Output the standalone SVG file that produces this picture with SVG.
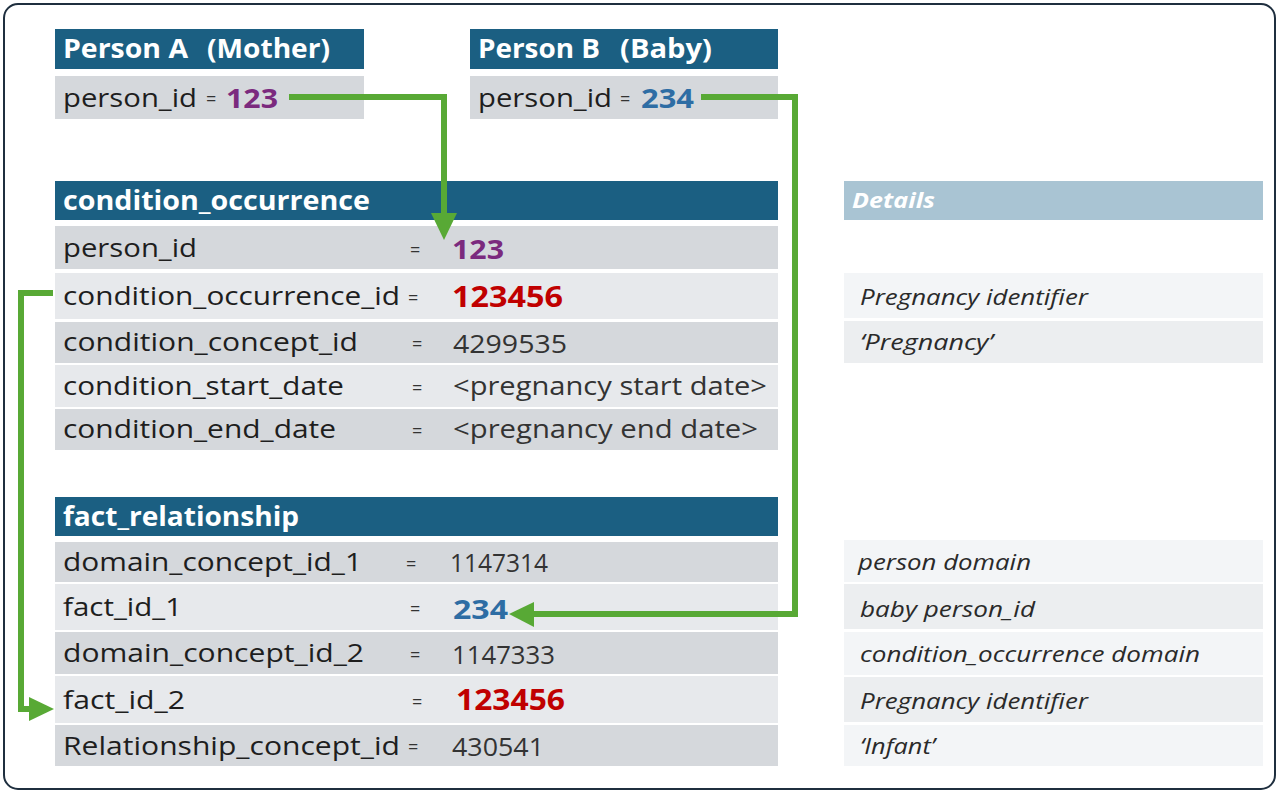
<svg xmlns="http://www.w3.org/2000/svg" width="1280" height="795" viewBox="0 0 1280 795">
<style>
.hd{fill:#1b5f82}
.dk{fill:#d5d8dc}
.lt{fill:#e7e9ec}
.dh{fill:#a9c4d3}
.dl{fill:#f3f5f7}
.dd{fill:#eceef0}
text{font-family:"Open Sans","Noto Sans","Liberation Sans",sans-serif}
.ht{font-size:26px;font-weight:bold;fill:#ffffff}
.lb{font-size:26px;fill:#1e1e1e}
.eq{font-size:18px;fill:#333333}
.nv{font-size:25px;fill:#333333}
.pu{font-size:27px;font-weight:bold;fill:#7b2a7e}
.bl{font-size:27px;font-weight:bold;fill:#2e6da4}
.rd{font-size:28px;font-weight:bold;fill:#c00000}
.dt{font-size:22px;font-style:italic;fill:#2a2a2a}
.dht{font-size:22px;font-style:italic;font-weight:bold;fill:#ffffff}
.ln{fill:none;stroke:#58a935;stroke-width:6}
.ah{fill:#58a935}
</style>
<rect x="4" y="4" width="1271" height="785" rx="14" fill="#ffffff" stroke="#1f2f3f" stroke-width="2"/>

<g id="personA">
<rect class="hd" x="55" y="29" width="309" height="40"/>
<text class="ht" x="63" y="58" textLength="125" lengthAdjust="spacingAndGlyphs">Person A</text>
<text class="ht" x="207" y="58" textLength="123" lengthAdjust="spacingAndGlyphs">(Mother)</text>
<rect class="dk" x="55" y="76" width="309" height="43"/>
<text class="lb" x="63" y="107" textLength="134" lengthAdjust="spacingAndGlyphs">person_id</text>
<text class="eq" x="206" y="105">=</text>
<text class="pu" x="226" y="108" textLength="52" lengthAdjust="spacingAndGlyphs">123</text>
</g>

<g id="personB">
<rect class="hd" x="470" y="29" width="308" height="40"/>
<text class="ht" x="478" y="58" textLength="122" lengthAdjust="spacingAndGlyphs">Person B</text>
<text class="ht" x="620" y="58" textLength="92" lengthAdjust="spacingAndGlyphs">(Baby)</text>
<rect class="dk" x="470" y="76" width="308" height="43"/>
<text class="lb" x="478" y="107" textLength="134" lengthAdjust="spacingAndGlyphs">person_id</text>
<text class="eq" x="620" y="105">=</text>
<text class="bl" x="641" y="108" textLength="53" lengthAdjust="spacingAndGlyphs">234</text>
</g>

<g id="condition_occurrence">
<rect class="hd" x="55" y="181" width="723" height="39"/>
<text class="ht" x="63" y="210" textLength="307" lengthAdjust="spacingAndGlyphs">condition_occurrence</text>
<rect class="dk" x="55" y="226" width="723" height="43"/>
<text class="lb" x="63" y="257" textLength="134" lengthAdjust="spacingAndGlyphs">person_id</text>
<text class="eq" x="410" y="256">=</text>
<text class="pu" x="452" y="259" textLength="52" lengthAdjust="spacingAndGlyphs">123</text>
<rect class="lt" x="55" y="273" width="723" height="46"/>
<text class="lb" x="63" y="305" textLength="337" lengthAdjust="spacingAndGlyphs">condition_occurrence_id</text>
<text class="eq" x="408" y="304">=</text>
<text class="rd" x="452" y="307" textLength="111" lengthAdjust="spacingAndGlyphs">123456</text>
<rect class="dk" x="55" y="322" width="723" height="41"/>
<text class="lb" x="63" y="351" textLength="295" lengthAdjust="spacingAndGlyphs">condition_concept_id</text>
<text class="eq" x="412" y="350">=</text>
<text class="nv" x="453" y="353" textLength="114" lengthAdjust="spacingAndGlyphs">4299535</text>
<rect class="lt" x="55" y="365" width="723" height="42"/>
<text class="lb" x="63" y="395" textLength="281" lengthAdjust="spacingAndGlyphs">condition_start_date</text>
<text class="eq" x="412" y="394">=</text>
<text class="nv" x="453" y="395" textLength="314" lengthAdjust="spacingAndGlyphs">&lt;pregnancy start date&gt;</text>
<rect class="dk" x="55" y="409" width="723" height="41"/>
<text class="lb" x="63" y="438" textLength="273" lengthAdjust="spacingAndGlyphs">condition_end_date</text>
<text class="eq" x="412" y="437">=</text>
<text class="nv" x="453" y="438" textLength="305" lengthAdjust="spacingAndGlyphs">&lt;pregnancy end date&gt;</text>
</g>

<g id="fact_relationship">
<rect class="hd" x="55" y="497" width="723" height="39"/>
<text class="ht" x="63" y="526" textLength="236" lengthAdjust="spacingAndGlyphs">fact_relationship</text>
<rect class="dk" x="55" y="542" width="723" height="40"/>
<text class="lb" x="63" y="571" textLength="299" lengthAdjust="spacingAndGlyphs">domain_concept_id_1</text>
<text class="eq" x="406" y="570">=</text>
<text class="nv" x="450" y="572" textLength="98" lengthAdjust="spacingAndGlyphs">1147314</text>
<rect class="lt" x="55" y="584" width="723" height="46"/>
<text class="lb" x="63" y="616" textLength="119" lengthAdjust="spacingAndGlyphs">fact_id_1</text>
<text class="eq" x="410" y="615">=</text>
<text class="bl" x="453" y="619" textLength="55" lengthAdjust="spacingAndGlyphs">234</text>
<rect class="dk" x="55" y="632" width="723" height="42"/>
<text class="lb" x="63" y="662" textLength="301" lengthAdjust="spacingAndGlyphs">domain_concept_id_2</text>
<text class="eq" x="410" y="661">=</text>
<text class="nv" x="452" y="664" textLength="103" lengthAdjust="spacingAndGlyphs">1147333</text>
<rect class="lt" x="55" y="676" width="723" height="47"/>
<text class="lb" x="63" y="709" textLength="122" lengthAdjust="spacingAndGlyphs">fact_id_2</text>
<text class="eq" x="412" y="708">=</text>
<text class="rd" x="456" y="710" textLength="109" lengthAdjust="spacingAndGlyphs">123456</text>
<rect class="dk" x="55" y="725" width="723" height="41"/>
<text class="lb" x="63" y="755" textLength="337" lengthAdjust="spacingAndGlyphs">Relationship_concept_id</text>
<text class="eq" x="408" y="753">=</text>
<text class="nv" x="452" y="756" textLength="92" lengthAdjust="spacingAndGlyphs">430541</text>
</g>

<g id="details">
<rect class="dh" x="844" y="181" width="419" height="39"/>
<text class="dht" x="852" y="208" textLength="83" lengthAdjust="spacingAndGlyphs">Details</text>
<rect class="dl" x="844" y="273" width="419" height="45"/>
<text class="dt" x="860" y="305" textLength="228" lengthAdjust="spacingAndGlyphs">Pregnancy identifier</text>
<rect class="dd" x="844" y="321" width="419" height="42"/>
<text class="dt" x="860" y="350" textLength="133" lengthAdjust="spacingAndGlyphs">‘Pregnancy’</text>
<rect class="dl" x="844" y="540" width="419" height="42"/>
<text class="dt" x="858" y="570" textLength="173" lengthAdjust="spacingAndGlyphs">person domain</text>
<rect class="dd" x="844" y="584" width="419" height="45"/>
<text class="dt" x="860" y="617" textLength="175" lengthAdjust="spacingAndGlyphs">baby person_id</text>
<rect class="dl" x="844" y="632" width="419" height="43"/>
<text class="dt" x="860" y="662" textLength="340" lengthAdjust="spacingAndGlyphs">condition_occurrence domain</text>
<rect class="dd" x="844" y="677" width="419" height="45"/>
<text class="dt" x="860" y="709" textLength="228" lengthAdjust="spacingAndGlyphs">Pregnancy identifier</text>
<rect class="dl" x="844" y="725" width="419" height="41"/>
<text class="dt" x="860" y="754" textLength="75" lengthAdjust="spacingAndGlyphs">‘Infant’</text>
</g>

<g id="connectors">
<polyline class="ln" points="289,97 444,97 444,214"/>
<polygon class="ah" points="431,213 457,213 444,240"/>
<polyline class="ln" points="701,97 795,97 795,614 532,614"/>
<polygon class="ah" points="534,602 534,627 509,614"/>
<polyline class="ln" points="53,293 21,293 21,709 30,709"/>
<polygon class="ah" points="29,697 29,721 54,709"/>
</g>
</svg>
